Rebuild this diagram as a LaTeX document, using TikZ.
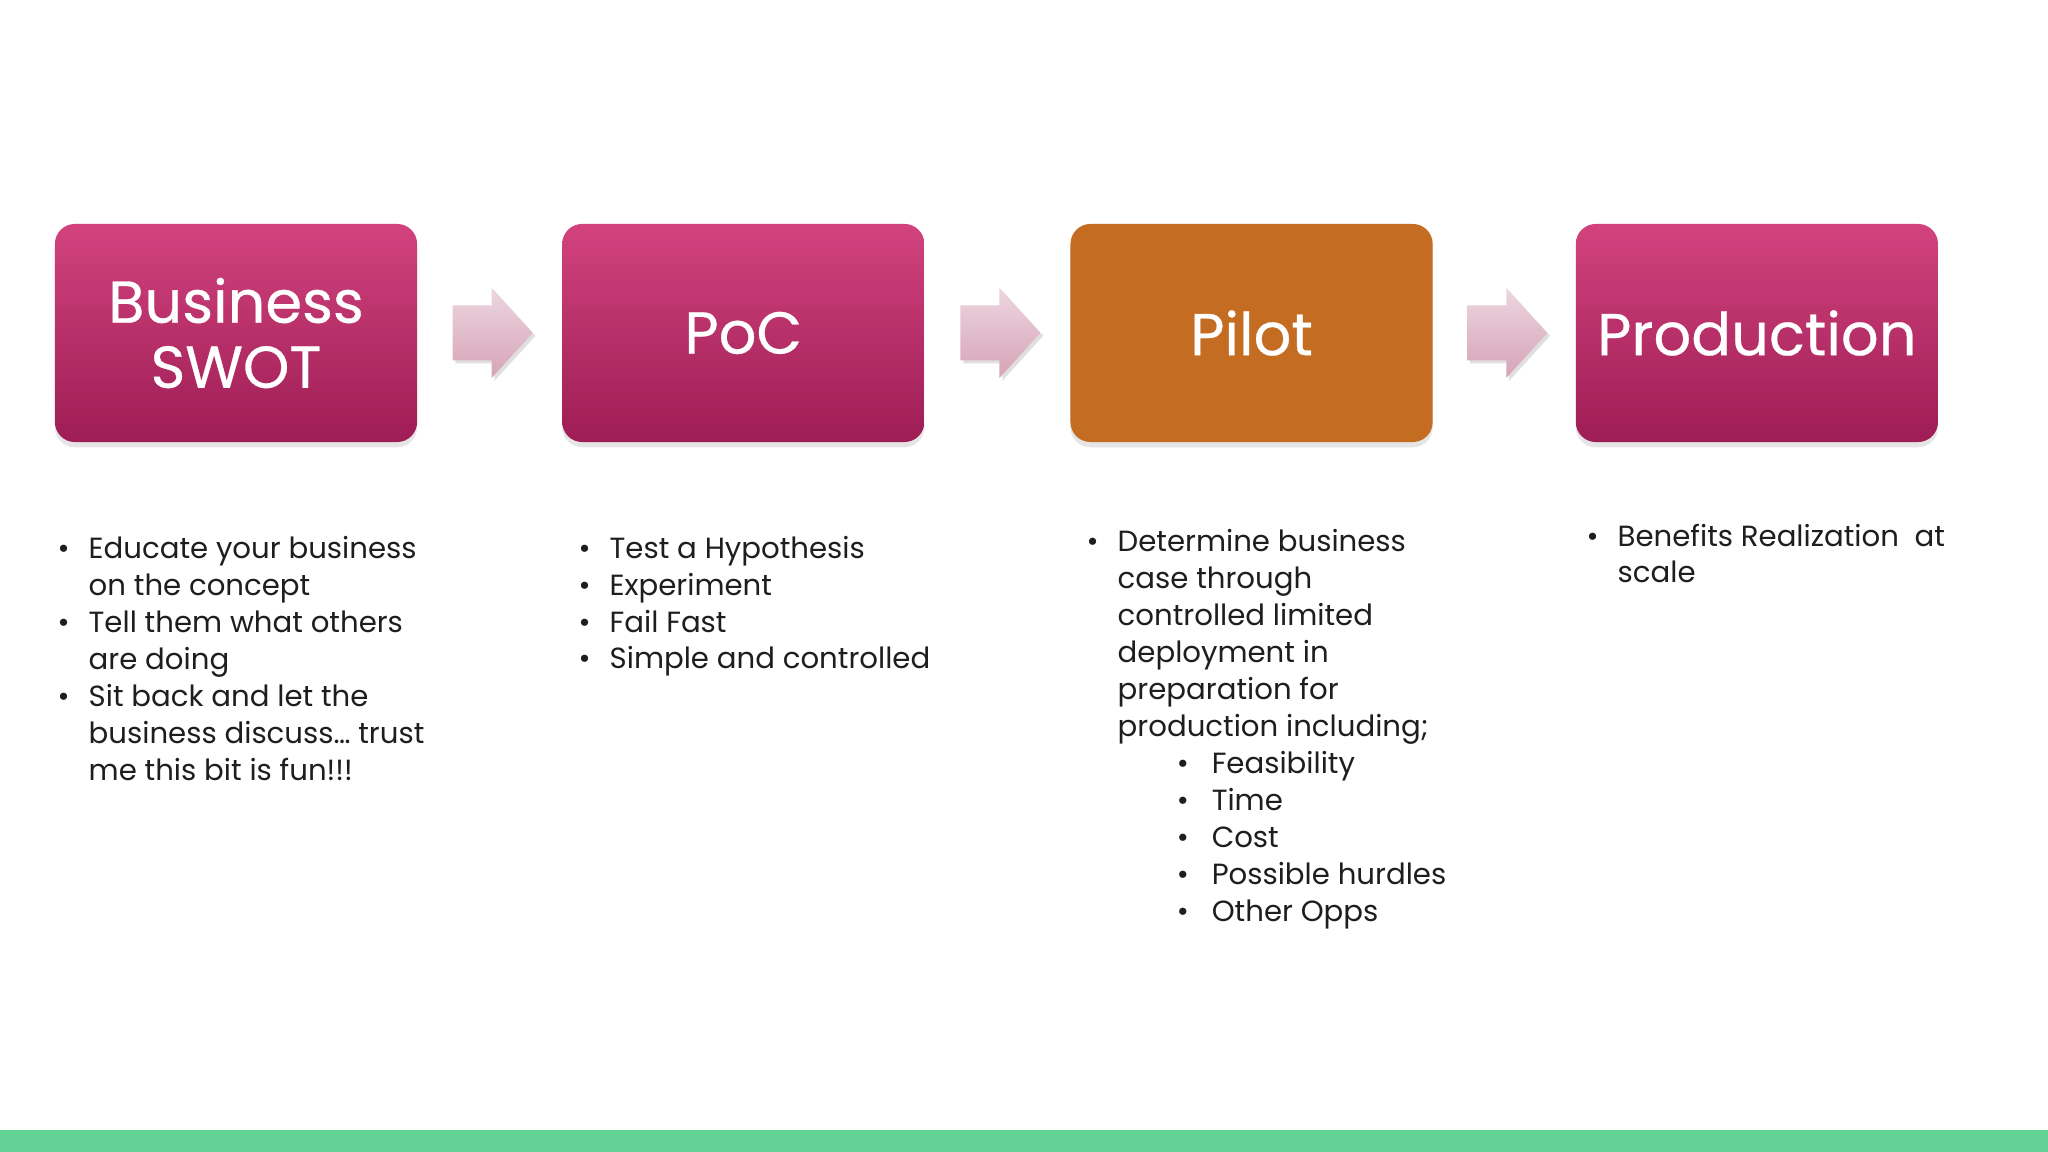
\documentclass[tikz,border=0pt]{standalone}
\usepackage{fontspec}
\setmainfont{Poppins}
\newfontfamily\stagefont[FakeBold=0.5]{Poppins}
\usetikzlibrary{positioning,shadows,calc}

\definecolor{stageTop}{HTML}{D2437E}
\definecolor{stageBot}{HTML}{9E1D54}
\definecolor{pilotFill}{HTML}{C46C22}
\definecolor{arrTop}{HTML}{EDD6DF}
\definecolor{arrBot}{HTML}{D6A3B7}
\definecolor{barGreen}{HTML}{62D295}
\definecolor{noteText}{HTML}{1E1E1E}

\newcommand{\bitem}[1]{\makebox[0.31cm][l]{\textbullet}#1}
\newcommand{\bcont}[1]{\hspace*{0.31cm}#1}
\newcommand{\bsub}[1]{\hspace*{0.90cm}\makebox[0.35cm][l]{\textbullet}#1}

\tikzset{
  stage/.style={rounded corners=0.2cm, minimum width=3.62cm, minimum height=2.18cm,
    outer sep=0pt, align=center, text=white, font=\stagefont\fontsize{16.8}{18.5}\selectfont,
    drop shadow={opacity=0.2, shadow xshift=0pt, shadow yshift=-1.5pt}},
  pinkstage/.style={stage, top color=stageTop, bottom color=stageBot},
  orangestage/.style={stage, fill=pilotFill},
  flowarrow/.style={top color=arrTop, bottom color=arrBot,
    drop shadow={opacity=0.25, shadow xshift=0.8pt, shadow yshift=-0.8pt}},
  notes/.style={anchor=base west, align=left, inner sep=0pt, text=noteText,
    font=\fontsize{8.3}{10.5}\selectfont}
}

\begin{document}
\begin{tikzpicture}[x=0.01cm, y=-0.01cm]
  \useasboundingbox (0,0) rectangle (2048,1152);
  \fill[white] (0,0) rectangle (2048,1152);
  \fill[barGreen] (0,1130) rectangle (2048,1152);

  % stages
  \node[pinkstage] (swot) at (236,333) {Business\\SWOT};
  \node[pinkstage, right=1.45cm of swot] (poc) {PoC};
  \node[orangestage, right=1.46cm of poc] (pilot) {Pilot};
  \node[pinkstage, right=1.43cm of pilot] (prod) {Production};

  % arrows between stages
  \path[flowarrow] ($(swot.east)!0.5!(poc.west)$) ++(-37,-27.5) -- ++(39,0) -- ++(0,-17.5)
    -- ++(41,45) -- ++(-41,45) -- ++(0,-17.5) -- ++(-39,0) -- cycle;
  \path[flowarrow] ($(poc.east)!0.5!(pilot.west)$) ++(-37,-27.5) -- ++(39,0) -- ++(0,-17.5)
    -- ++(41,45) -- ++(-41,45) -- ++(0,-17.5) -- ++(-39,0) -- cycle;
  \path[flowarrow] ($(pilot.east)!0.5!(prod.west)$) ++(-37,-27.5) -- ++(39,0) -- ++(0,-17.5)
    -- ++(41,45) -- ++(-41,45) -- ++(0,-17.5) -- ++(-39,0) -- cycle;

  % notes under each stage
  \node[notes] (swotnotes) at (57,780) {\bitem{Educate your business}\\
    \bcont{on the concept}\\
    \bitem{Tell them what others}\\
    \bcont{are doing}\\
    \bitem{Sit back and let the}\\
    \bcont{business discuss\dots\ trust}\\
    \bcont{me this bit is fun!!!}};
  \node[notes] (pocnotes) at (578,669) {\bitem{Test a Hypothesis}\\
    \bitem{Experiment}\\
    \bitem{Fail Fast}\\
    \bitem{Simple and controlled}};
  \node[notes] (pilotnotes) at (1086,921) {\bitem{Determine business}\\
    \bcont{case through}\\
    \bcont{controlled limited}\\
    \bcont{deployment in}\\
    \bcont{preparation for}\\
    \bcont{production including;}\\
    \bsub{Feasibility}\\
    \bsub{Time}\\
    \bsub{Cost}\\
    \bsub{Possible hurdles}\\
    \bsub{Other Opps}};
  \node[notes] (prodnotes) at (1586,583) {\bitem{Benefits Realization\ \ at}\\
    \bcont{scale}};
\end{tikzpicture}
\end{document}
